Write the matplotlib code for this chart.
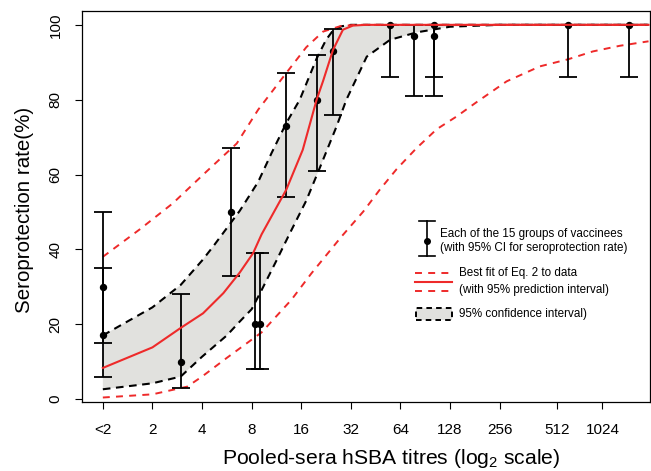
import numpy as np
import matplotlib
matplotlib.use("Agg")
import matplotlib.pyplot as plt
from matplotlib.lines import Line2D
from matplotlib.patches import Rectangle

plt.rcParams['font.family'] = ['Liberation Sans', 'DejaVu Sans']
plt.rcParams['mathtext.fontset'] = 'custom'
plt.rcParams['mathtext.rm'] = 'Liberation Sans'
plt.rcParams['mathtext.it'] = 'Liberation Sans'
plt.rcParams['lines.scale_dashes'] = False

# x is log2 of the titre ("<2" sits at 0)
tick_pos = [0, 1, 2, 3, 4, 5, 6, 7, 8, 9.15, 10.07]
tick_labels = ['<2', '2', '4', '8', '16', '32', '64', '128', '256', '512', '1024']

# the 15 groups of vaccinees
group_x = [0, 0, 1.57, 2.58, 3.06, 3.17, 3.69, 4.31, 4.64, 5.79, 6.27, 6.67, 6.67, 9.38, 10.61]
rate = [30, 17, 10, 50, 20, 20, 73, 80, 93, 100, 97, 100, 97, 100, 100]
ci_low = [15, 6, 3, 33, 8, 8, 54, 61, 76, 86, 81, 86, 81, 86, 86]
ci_high = [50, 35, 28, 67, 39, 39, 87, 92, 99, 100, 100, 100, 100, 100, 100]

# best fit of Eq. 2
fit_x = [0, 1.0, 1.57, 2.02, 2.43, 2.76, 3.03, 3.2, 3.45, 3.7, 4.03, 4.31, 4.44, 4.64, 4.84, 5.04, 5.3, 11.0]
fit_y = [8.3, 13.8, 19, 22.9, 28.3, 33.8, 39, 44, 50, 56, 66.6, 80, 85, 93.3, 98.7, 99.8, 100, 100]

# 95% prediction interval
pu_x = [0, 0.75, 1.41, 2.09, 2.7, 3.13, 3.69, 4.1, 4.44, 4.8, 5.1, 11.0]
pu_y = [38, 45.4, 52.3, 60.8, 68.3, 77.3, 87, 94, 98.2, 99.7, 100, 100]
pl_x = [0, 1.0, 1.7, 2.0, 2.5, 3.2, 3.8, 4.2, 4.81, 5.25, 5.58, 5.92, 6.32, 6.73, 7.13, 7.53,
        8.14, 8.81, 9.38, 9.88, 10.42, 11.0]
pl_y = [0.4, 1.25, 3.3, 6, 11, 17.8, 26.5, 33.5, 43.4, 50.1, 55.9, 61.4, 67, 72.1, 75.5, 79.3,
        84.9, 88.9, 90.8, 92.9, 94.4, 95.6]

# 95% confidence interval
ciu_x = [0, 1.0, 1.57, 2.0, 2.22, 2.76, 3.13, 3.4, 3.7, 3.97, 4.31, 4.5, 4.64, 4.8, 5.0, 11.0]
ciu_y = [17, 24.5, 30.5, 37, 40.7, 50.3, 58, 65.7, 73.8, 80, 91, 96, 98.5, 99.6, 100, 100]
cil_x = [0, 1.0, 1.57, 2.0, 2.5, 2.76, 3.0, 3.17, 3.5, 3.77, 4.1, 4.38, 4.71, 4.91, 5.32, 5.79,
         6.33, 7.0, 8.0, 11.0]
cil_y = [2.6, 4.2, 6, 11.3, 17, 20.7, 24, 28.3, 37, 44.3, 53, 62, 72.8, 80, 91.5, 96,
         98, 99.5, 100, 100]

W, H = 651, 471
fig = plt.figure(figsize=(W / 100, H / 100), dpi=100)
ax = fig.add_axes([82 / W, 1 - 402 / H, (650 - 82) / W, (402 - 11) / H])

red = '#ee2a2a'
grey = '#e1e1de'

ax.fill(np.concatenate([ciu_x, cil_x[::-1]]), np.concatenate([ciu_y, cil_y[::-1]]),
        color=grey, lw=0, zorder=1)
ax.plot(ciu_x, ciu_y, color='black', lw=1.5, dashes=(5.5, 4), zorder=2)
ax.plot(cil_x, cil_y, color='black', lw=1.5, dashes=(5.5, 4), zorder=2)
ax.plot(pu_x, pu_y, color=red, lw=1.4, dashes=(5, 4.5), zorder=3)
ax.plot(pl_x, pl_y, color=red, lw=1.4, dashes=(5, 4.5), zorder=3)

rate_a = np.array(rate)
yerr = [rate_a - np.array(ci_low), np.array(ci_high) - rate_a]
ax.errorbar(group_x, rate, yerr=yerr, fmt='o', color='black', ms=4.3,
            elinewidth=1.3, capsize=6.5, capthick=1.3, zorder=4)
ax.plot(fit_x, fit_y, color=red, lw=1.5, zorder=5)

ax.set_xlim(-0.42, 11.03)
ax.set_ylim(-0.8, 103.7)
ax.set_xticks(tick_pos)
ax.set_xticklabels(tick_labels)
ax.set_yticks([0, 20, 40, 60, 80, 100])
ax.tick_params(axis='x', length=5, width=0.8, pad=10, labelsize=11)
ax.tick_params(axis='y', length=5, width=0.8, pad=9, labelsize=11)
for lab in ax.get_yticklabels():
    lab.set_rotation(90)
    lab.set_va('center')
for s in ax.spines.values():
    s.set_linewidth(0.9)

fig.text(391 / W, 1 - 464 / H, 'Pooled-sera hSBA titres (log$_2$ scale)',
         ha='center', va='baseline', fontsize=15.2)
fig.text(25 / W, 1 - 210 / H, 'Seroprotection rate(%)', rotation=90,
         ha='center', va='center', fontsize=14.8)

# legend, drawn by hand in figure pixels
def fx(px):
    return px / W

def fy(py):
    return 1 - py / H

def seg(x0, y0, x1, y1, **kw):
    fig.add_artist(Line2D([fx(x0), fx(x1)], [fy(y0), fy(y1)], **kw))

seg(426.5, 221, 426.5, 256, color='black', lw=1.2)
seg(418.5, 221, 434.5, 221, color='black', lw=1.2)
seg(418.5, 256, 434.5, 256, color='black', lw=1.2)
fig.add_artist(Line2D([fx(426.5)], [fy(241)], marker='o', ms=4, color='black'))
fig.text(fx(440), fy(234), 'Each of the 15 groups of vaccinees', va='center', fontsize=8.4)
fig.text(fx(440), fy(248), '(with 95% CI for seroprotection rate)', va='center', fontsize=8.4)

seg(415, 272.5, 452, 272.5, color=red, lw=1.4, dashes=(5, 4.5))
seg(415, 281.5, 452, 281.5, color=red, lw=1.5)
seg(415, 291, 452, 291, color=red, lw=1.4, dashes=(5, 4.5))
fig.text(fx(459), fy(273), 'Best fit of Eq. 2 to data', va='center', fontsize=8.4)
fig.text(fx(459), fy(290), '(with 95% prediction interval)', va='center', fontsize=8.4)

fig.add_artist(Rectangle((fx(415.5), fy(320)), fx(451.5) - fx(415.5), fy(307.5) - fy(320),
                         transform=fig.transFigure, facecolor=grey, edgecolor='black',
                         lw=1.4, linestyle=(0, (4, 3))))
fig.text(fx(459), fy(314), '95% confidence interval)', va='center', fontsize=8.4)

fig.savefig('out.png', dpi=100)
